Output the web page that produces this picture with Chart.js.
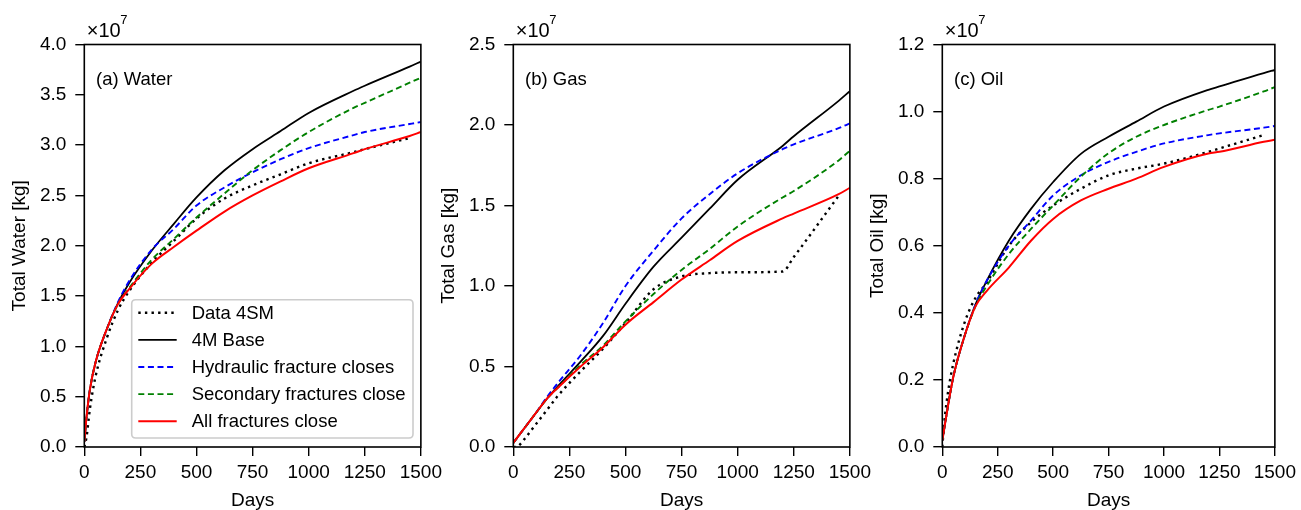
<!DOCTYPE html>
<html>
<head>
<meta charset="utf-8">
<script src="https://cdn.jsdelivr.net/npm/chart.js@4.4.1/dist/chart.umd.min.js"></script>
<style>
  html, body { margin: 0; padding: 0; background: #fff; }
  #wrap { position: relative; width: 1301px; height: 510px; overflow: hidden; }
  #wrap canvas { position: absolute; top: 0; }
</style>
</head>
<body>
<div id="wrap">
  <canvas id="waterChart" width="447" height="510" style="left:0px"></canvas>
  <canvas id="gasChart" width="447" height="510" style="left:429px"></canvas>
  <canvas id="oilChart" width="443" height="510" style="left:858px"></canvas>
</div>

<script>
/* ========= DATA (values x 1e7 kg) ========= */

const days = [0, 10, 25, 50, 100, 150, 200, 300, 400, 500, 625, 750, 875, 1000, 1200, 1250, 1450, 1500];

const seriesNames = ["Data 4SM", "4M Base", "Hydraulic fracture closes", "Secondary fractures close", "All fractures close"];

const waterData4SM = [0, 0.10, 0.38, 0.70, 1.08, 1.36, 1.55, 1.83, 2.05, 2.27, 2.47, 2.60, 2.71, 2.82, 2.93, 2.96, 3.07, null];
const waterBase    = [0.05, 0.30, 0.57, 0.84, 1.17, 1.43, 1.63, 1.95, 2.22, 2.48, 2.75, 2.96, 3.14, 3.32, 3.54, 3.59, 3.78, 3.83];
const waterHydr    = [0.05, 0.30, 0.57, 0.84, 1.17, 1.44, 1.65, 1.96, 2.17, 2.40, 2.58, 2.73, 2.86, 2.97, 3.10, 3.13, 3.21, 3.23];
const waterSec     = [0.05, 0.30, 0.57, 0.84, 1.17, 1.42, 1.58, 1.86, 2.07, 2.28, 2.52, 2.75, 2.95, 3.13, 3.37, 3.42, 3.62, 3.67];
const waterAll     = [0.05, 0.30, 0.57, 0.84, 1.17, 1.42, 1.57, 1.82, 1.99, 2.15, 2.34, 2.50, 2.64, 2.77, 2.92, 2.96, 3.09, 3.13];

const gasData4SM = [0, 0, 0.01, 0.05, 0.14, 0.23, 0.32, 0.47, 0.61, 0.77, 0.98, 1.06, 1.08, 1.085, 1.09, 1.18, 1.56, null];
const gasBase    = [0.025, 0.044, 0.072, 0.118, 0.21, 0.30, 0.38, 0.53, 0.69, 0.89, 1.12, 1.30, 1.48, 1.66, 1.87, 1.93, 2.15, 2.21];
const gasHydr    = [0.025, 0.044, 0.072, 0.118, 0.21, 0.31, 0.40, 0.57, 0.77, 1.00, 1.22, 1.42, 1.57, 1.70, 1.85, 1.88, 1.98, 2.01];
const gasSec     = [0.025, 0.044, 0.072, 0.118, 0.21, 0.30, 0.37, 0.51, 0.63, 0.78, 0.95, 1.10, 1.23, 1.37, 1.55, 1.59, 1.78, 1.84];
const gasAll     = [0.025, 0.044, 0.072, 0.118, 0.21, 0.30, 0.37, 0.50, 0.62, 0.76, 0.90, 1.04, 1.16, 1.28, 1.42, 1.45, 1.57, 1.61];

const oilData4SM = [0, 0.08, 0.16, 0.25, 0.37, 0.445, 0.49, 0.60, 0.67, 0.72, 0.77, 0.81, 0.83, 0.845, 0.88, 0.89, 0.93, null];
const oilBase    = [0.02, 0.06, 0.12, 0.21, 0.33, 0.425, 0.495, 0.615, 0.71, 0.79, 0.874, 0.925, 0.97, 1.015, 1.065, 1.075, 1.115, 1.124];
const oilHydr    = [0.02, 0.06, 0.12, 0.21, 0.33, 0.425, 0.495, 0.60, 0.675, 0.75, 0.81, 0.85, 0.88, 0.905, 0.93, 0.935, 0.952, 0.957];
const oilSec     = [0.02, 0.06, 0.12, 0.21, 0.33, 0.42, 0.48, 0.575, 0.65, 0.72, 0.806, 0.876, 0.925, 0.96, 1.005, 1.015, 1.06, 1.073];
const oilAll     = [0.02, 0.06, 0.12, 0.21, 0.33, 0.42, 0.465, 0.535, 0.615, 0.68, 0.735, 0.77, 0.80, 0.835, 0.875, 0.88, 0.91, 0.916];


/* ========= STYLE ========= */

const FONT = "'Liberation Sans', Arial, Helvetica, sans-serif";
const FONT_SIZE = 19;
const Y_AXIS_W = 84.3;
const X_AXIS_H = 63;

const lineStyles = [
  { borderColor: "#000000", borderWidth: 2.4, borderDash: [2.4, 4.2], order: 4 },
  { borderColor: "#000000", borderWidth: 1.8, borderDash: [],         order: 3 },
  { borderColor: "#0000ff", borderWidth: 1.9, borderDash: [6, 3.6],   order: 2 },
  { borderColor: "#008000", borderWidth: 1.9, borderDash: [6, 3.6],   order: 1 },
  { borderColor: "#ff0000", borderWidth: 2,   borderDash: [],         order: 0 }
];


/* ========= PLUGIN: frame, tag, multiplier, legend ========= */

function roundRectPath(ctx, x, y, w, h, r) {
  ctx.beginPath();
  ctx.moveTo(x + r, y);
  ctx.lineTo(x + w - r, y);
  ctx.quadraticCurveTo(x + w, y, x + w, y + r);
  ctx.lineTo(x + w, y + h - r);
  ctx.quadraticCurveTo(x + w, y + h, x + w - r, y + h);
  ctx.lineTo(x + r, y + h);
  ctx.quadraticCurveTo(x, y + h, x, y + h - r);
  ctx.lineTo(x, y + r);
  ctx.quadraticCurveTo(x, y, x + r, y);
  ctx.closePath();
}

function drawLegend(chart) {
  const ctx = chart.ctx;
  const a = chart.chartArea;
  const bx = a.left + 47.4, by = a.top + 255.2;

  roundRectPath(ctx, bx, by, 281.3, 138.3, 4);
  ctx.fillStyle = "rgba(255,255,255,0.8)";
  ctx.fill();
  ctx.strokeStyle = "#cccccc";
  ctx.lineWidth = 1.6;
  ctx.stroke();

  chart.data.datasets.forEach((ds, i) => {
    const y = by + 13 + i * 27.15;
    ctx.save();
    ctx.strokeStyle = ds.borderColor;
    ctx.lineWidth = ds.borderWidth;
    ctx.setLineDash(ds.borderDash);
    ctx.beginPath();
    ctx.moveTo(bx + 6.6, y);
    ctx.lineTo(bx + 45, y);
    ctx.stroke();
    ctx.restore();

    ctx.fillStyle = "#000";
    ctx.font = "18.5px " + FONT;
    ctx.textBaseline = "middle";
    ctx.fillText(ds.label, bx + 60, y + 1);
  });
}

const panelDecor = {
  id: "panelDecor",
  afterDatasetsDraw(chart, args, opts) {
    const ctx = chart.ctx;
    const a = chart.chartArea;
    ctx.save();

    ctx.strokeStyle = "#000";
    ctx.lineWidth = 1.6;
    ctx.strokeRect(a.left, a.top, a.right - a.left, a.bottom - a.top);

    ctx.fillStyle = "#000";
    ctx.textBaseline = "middle";
    ctx.font = "18.5px " + FONT;
    ctx.fillText(opts.tag, a.left + 11.7, a.top + 35);
    ctx.font = "20px " + FONT;
    ctx.fillText("\u00d710", a.left + 2.4, 31);
    ctx.font = "13px " + FONT;
    ctx.fillText("7", a.left + 36, 20);

    if (opts.legend) drawLegend(chart);
    ctx.restore();
  }
};


/* ========= BUILD ========= */

function makeDatasets(list) {
  return list.map((vals, i) => Object.assign({
    label: seriesNames[i],
    data: days.map((d, k) => ({ x: d, y: vals[k] })),
    pointRadius: 0,
    fill: false,
    borderCapStyle: "butt",
    cubicInterpolationMode: "monotone",
    spanGaps: false
  }, lineStyles[i]));
}

function makeChart(id, list, yMax, yStep, yTitle, tag, padRight, withLegend) {
  const tickGrid = {
    display: true,
    drawOnChartArea: false,
    drawTicks: true,
    tickLength: 9,
    color: "#000",
    lineWidth: 1.4
  };

  return new Chart(document.getElementById(id), {
    type: "line",
    data: { datasets: makeDatasets(list) },
    options: {
      responsive: false,
      animation: false,
      layout: { padding: { left: 0, top: 44.5, right: padRight, bottom: 0 } },
      plugins: {
        legend: { display: false },
        tooltip: { enabled: false },
        panelDecor: { tag: tag, legend: withLegend }
      },
      scales: {
        x: {
          type: "linear",
          min: 0,
          max: 1500,
          grid: tickGrid,
          border: { display: false },
          ticks: { stepSize: 250, padding: 5, maxRotation: 0, autoSkip: false, color: "#000",
                   font: { size: FONT_SIZE, family: FONT },
                   callback: v => String(v) },
          title: { display: true, text: "Days", color: "#000",
                   font: { size: FONT_SIZE, family: FONT, lineHeight: 1 }, padding: { top: 0, bottom: 0 } },
          afterFit: s => { s.height = X_AXIS_H; }
        },
        y: {
          min: 0,
          max: yMax,
          grid: tickGrid,
          border: { display: false },
          ticks: { stepSize: yStep, padding: 9, color: "#000",
                   font: { size: FONT_SIZE, family: FONT },
                   callback: v => Number(v).toFixed(1) },
          title: { display: true, text: yTitle, color: "#000",
                   font: { size: FONT_SIZE, family: FONT, lineHeight: 1 }, padding: { top: 10, bottom: 0 } },
          afterFit: s => { s.width = Y_AXIS_W; }
        }
      }
    },
    plugins: [panelDecor]
  });
}


/* ========= INIT ========= */

Chart.defaults.font.family = FONT;
Chart.defaults.color = "#000";

makeChart("waterChart", [waterData4SM, waterBase, waterHydr, waterSec, waterAll],
  4.0, 0.5, "Total Water [kg]", "(a) Water", 25.3, true);
makeChart("gasChart", [gasData4SM, gasBase, gasHydr, gasSec, gasAll],
  2.5, 0.5, "Total Gas [kg]", "(b) Gas", 25.3, false);
makeChart("oilChart", [oilData4SM, oilBase, oilHydr, oilSec, oilAll],
  1.2, 0.2, "Total Oil [kg]", "(c) Oil", 21.7, false);
</script>
</body>
</html>
